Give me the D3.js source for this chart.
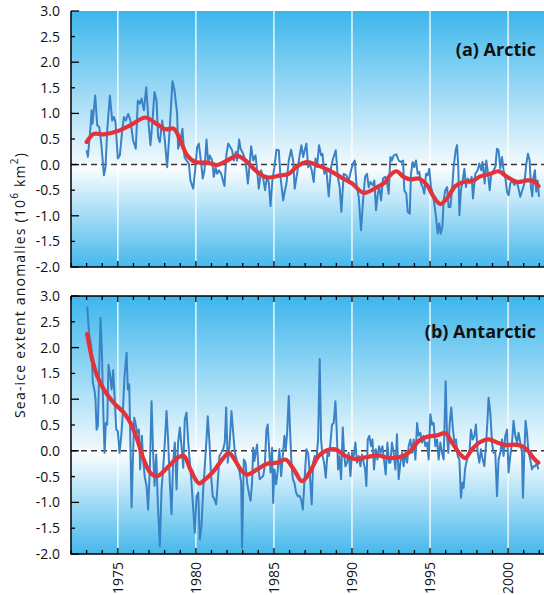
<!DOCTYPE html>
<html>
<head>
<meta charset="utf-8">
<script src="https://cdn.jsdelivr.net/npm/d3@7"></script>
<style>
html,body{margin:0;padding:0;background:#fff;}
svg{display:block;}
text{font-family:"Open Sans","Noto Sans",sans-serif;}
</style>
</head>
<body>
<svg id="chart" width="544" height="595"></svg>
<script>
// ---------- DATA ----------
const yTicks = [-2.0,-1.5,-1.0,-0.5,0.0,0.5,1.0,1.5,2.0,2.5,3.0];
const yearTicks = [1975,1980,1985,1990,1995,2000];
const panelLabels = ["(a) Arctic","(b) Antarctic"];
const yTitle = "Sea-ice extent anomalies (10";

// Arctic monthly anomalies [year, value]
const arcticMonthly = [
[1973.00,0.28],[1973.08,0.15],[1973.25,0.73],[1973.32,1.06],[1973.38,0.80],[1973.55,1.35],[1973.68,0.77],[1973.81,0.73],[1973.94,0.41],
[1974.11,-0.21],[1974.21,-0.05],[1974.32,0.67],[1974.49,1.35],[1974.64,0.86],[1974.75,0.93],[1974.85,0.83],[1975.00,0.12],[1975.13,0.18],
[1975.28,0.67],[1975.39,0.93],[1975.51,0.86],[1975.66,0.99],[1975.81,0.86],[1975.98,0.47],[1976.15,0.31],[1976.28,1.25],[1976.41,1.19],
[1976.52,1.29],[1976.67,1.06],[1976.82,1.51],[1976.99,0.73],[1977.09,0.38],[1977.22,0.86],[1977.35,1.42],[1977.48,1.25],[1977.58,0.54],
[1977.69,0.44],[1977.84,0.86],[1977.99,0.54],[1978.16,-0.05],[1978.33,0.73],[1978.50,1.63],[1978.63,1.45],[1978.80,0.99],[1978.86,0.31],
[1979.01,0.47],[1979.14,0.70],[1979.27,0.15],[1979.40,0.08],[1979.55,0.02],[1979.65,-0.31],[1979.83,-0.47],[1979.97,-0.05],[1980.08,0.34],
[1980.19,0.41],[1980.29,0.15],[1980.44,-0.27],[1980.55,-0.11],[1980.68,0.49],[1980.79,0.02],[1980.89,0.18],[1981.04,0.08],[1981.15,-0.24],
[1981.26,-0.05],[1981.36,-0.18],[1981.47,-0.11],[1981.62,-0.18],[1981.83,-0.42],[1981.96,0.21],[1982.07,0.41],[1982.21,0.34],[1982.32,0.28],
[1982.43,0.08],[1982.56,0.25],[1982.64,0.08],[1982.77,0.49],[1982.86,0.31],[1983.03,0.21],[1983.18,0.08],[1983.33,-0.37],[1983.43,-0.05],
[1983.54,0.36],[1983.67,0.08],[1983.82,0.18],[1983.92,-0.11],[1984.03,-0.47],[1984.18,-0.11],[1984.31,-0.27],[1984.43,-0.50],[1984.56,-0.24],
[1984.67,-0.34],[1984.78,-0.81],[1984.90,-0.31],[1985.03,-0.05],[1985.16,0.29],[1985.31,0.28],[1985.42,-0.24],[1985.59,-0.70],[1985.69,-0.53],
[1985.80,-0.37],[1985.95,0.08],[1986.10,0.29],[1986.23,0.08],[1986.33,-0.47],[1986.48,-0.18],[1986.63,0.15],[1986.76,0.38],[1986.87,0.15],
[1986.97,0.28],[1987.08,0.41],[1987.19,-0.05],[1987.29,0.02],[1987.42,-0.11],[1987.55,-0.34],[1987.66,0.12],[1987.76,-0.05],[1987.89,0.38],
[1988.02,0.18],[1988.11,0.21],[1988.23,-0.18],[1988.36,-0.11],[1988.51,-0.62],[1988.66,-0.05],[1988.79,0.12],[1988.96,0.28],[1989.09,-0.24],
[1989.21,-0.44],[1989.32,-0.92],[1989.47,-0.18],[1989.64,-0.21],[1989.79,-0.31],[1989.94,-0.11],[1990.07,0.02],[1990.18,0.08],[1990.28,-0.37],
[1990.43,-0.63],[1990.58,-1.28],[1990.71,-0.70],[1990.84,-0.24],[1990.96,-0.18],[1991.07,-0.44],[1991.18,-0.34],[1991.33,-0.40],[1991.43,-0.31],
[1991.54,-0.89],[1991.65,-0.57],[1991.75,-0.44],[1991.86,-0.70],[1991.99,-0.27],[1992.12,-0.24],[1992.24,-0.34],[1992.35,-0.57],[1992.46,0.15],
[1992.56,0.08],[1992.67,0.18],[1992.84,0.20],[1992.99,0.08],[1993.14,0.05],[1993.27,0.08],[1993.35,-0.50],[1993.48,-0.57],[1993.57,-0.92],
[1993.70,-0.96],[1993.78,-0.18],[1993.89,0.05],[1993.99,-0.05],[1994.10,0.08],[1994.21,-0.18],[1994.31,-0.14],[1994.42,-0.37],[1994.53,-0.44],
[1994.63,-0.57],[1994.74,-0.18],[1994.85,-0.21],[1994.95,-0.08],[1995.06,-0.44],[1995.17,-0.57],[1995.27,-0.76],[1995.38,-1.02],[1995.49,-1.35],
[1995.59,-1.15],[1995.68,-1.35],[1995.79,-1.22],[1995.87,-0.70],[1995.98,-0.50],[1996.09,-0.44],[1996.19,-0.83],[1996.30,-0.83],[1996.41,-0.50],
[1996.51,-0.05],[1996.64,0.28],[1996.73,0.38],[1996.81,-0.05],[1996.88,-0.99],[1996.98,-0.50],[1997.09,-0.31],[1997.20,-0.08],[1997.30,-0.44],
[1997.41,-0.27],[1997.54,-0.36],[1997.67,-0.24],[1997.75,-0.66],[1997.90,-0.18],[1998.05,-0.11],[1998.16,0.02],[1998.28,-0.11],[1998.37,0.05],
[1998.50,-0.37],[1998.60,0.08],[1998.69,-0.11],[1998.82,-0.50],[1998.92,-0.18],[1999.07,-0.11],[1999.18,-0.05],[1999.29,0.31],[1999.39,0.28],
[1999.50,-0.08],[1999.61,0.15],[1999.71,-0.11],[1999.82,-0.24],[1999.93,-0.53],[2000.03,-0.60],[2000.14,-0.37],[2000.27,-0.31],[2000.40,-0.40],
[2000.52,-0.31],[2000.65,-0.44],[2000.78,-0.63],[2000.91,-0.50],[2001.04,-0.37],[2001.17,0.02],[2001.27,0.21],[2001.38,0.08],[2001.46,-0.44],
[2001.55,-0.62],[2001.63,-0.24],[2001.72,-0.11],[2001.80,-0.53],[2001.89,-0.31],[2001.98,-0.63]
];

// Arctic smoothed curve [year, value]
const arcticSmooth = [
[1973.00,0.44],[1973.47,0.60],[1974.10,0.59],[1974.96,0.65],[1975.81,0.77],[1976.77,0.92],[1977.41,0.81],[1978.05,0.69],[1978.58,0.70],
[1979.01,0.47],[1979.44,0.18],[1979.97,0.05],[1980.72,0.04],[1981.36,-0.01],[1982.00,0.08],[1982.64,0.17],[1983.18,0.08],[1983.92,-0.14],
[1984.56,-0.25],[1985.42,-0.21],[1985.95,-0.18],[1986.49,-0.03],[1987.08,0.05],[1987.77,-0.01],[1988.51,-0.11],[1989.26,-0.24],[1990.01,-0.37],
[1990.75,-0.55],[1991.60,-0.44],[1992.14,-0.34],[1992.40,-0.22],[1992.84,-0.13],[1993.31,-0.24],[1993.74,-0.29],[1994.27,-0.27],[1994.81,-0.40],
[1995.23,-0.63],[1995.66,-0.77],[1996.09,-0.66],[1996.62,-0.42],[1997.15,-0.34],[1997.69,-0.32],[1998.22,-0.23],[1998.86,-0.18],[1999.39,-0.13],
[1999.93,-0.24],[2000.57,-0.34],[2001.21,-0.31],[2001.63,-0.32],[2001.95,-0.42]
];

// Antarctic monthly anomalies [year, value]
const antarcticMonthly = [
[1973.04,2.80],[1973.15,2.29],[1973.30,2.03],[1973.40,1.32],[1973.51,1.16],[1973.57,1.00],[1973.64,0.41],[1973.72,0.48],[1973.81,1.64],
[1973.89,2.58],[1973.98,1.90],[1974.06,0.87],[1974.15,-0.04],[1974.23,0.54],[1974.32,0.51],[1974.40,1.67],[1974.49,1.51],[1974.60,1.19],
[1974.70,1.56],[1974.79,1.06],[1974.90,0.41],[1975.00,0.38],[1975.11,-0.04],[1975.22,0.29],[1975.32,0.74],[1975.43,1.45],[1975.56,1.90],
[1975.64,1.19],[1975.73,1.29],[1975.81,0.09],[1975.88,-1.10],[1975.96,-0.23],[1976.05,0.64],[1976.13,0.54],[1976.24,0.35],[1976.35,0.41],
[1976.43,-0.36],[1976.54,0.29],[1976.62,-0.17],[1976.73,-0.52],[1976.84,-0.68],[1976.94,-1.14],[1977.05,-0.36],[1977.16,0.96],[1977.26,-0.04],
[1977.35,-0.68],[1977.46,-0.07],[1977.56,-1.01],[1977.69,-1.85],[1977.80,-0.75],[1977.90,-0.36],[1978.01,0.16],[1978.12,0.77],[1978.22,0.22],
[1978.33,-0.62],[1978.44,-1.23],[1978.54,-0.23],[1978.65,0.16],[1978.76,-0.75],[1978.86,0.16],[1978.97,0.45],[1979.08,0.09],[1979.19,-0.33],
[1979.29,0.61],[1979.40,0.74],[1979.50,0.22],[1979.61,-0.23],[1979.72,-0.62],[1979.83,-1.14],[1979.93,-1.59],[1980.04,-0.88],[1980.15,-0.81],
[1980.25,-1.72],[1980.36,-1.46],[1980.47,-0.75],[1980.57,-0.30],[1980.68,0.22],[1980.76,0.67],[1980.87,0.16],[1980.98,-0.52],[1981.08,-0.88],
[1981.19,-0.94],[1981.30,-1.04],[1981.40,-0.62],[1981.51,-0.10],[1981.62,-0.04],[1981.75,0.03],[1981.85,0.16],[1981.94,0.84],[1982.04,-0.23],
[1982.15,0.09],[1982.28,0.77],[1982.39,0.35],[1982.49,-0.01],[1982.60,-0.17],[1982.71,-0.30],[1982.81,-0.43],[1982.90,-0.62],[1982.96,-1.88],
[1983.07,-0.17],[1983.18,-0.23],[1983.28,-0.62],[1983.39,-0.81],[1983.50,-0.97],[1983.60,-0.62],[1983.67,0.06],[1983.75,-0.20],[1983.84,-0.01],
[1983.92,0.12],[1984.01,-0.36],[1984.09,-0.55],[1984.20,-0.52],[1984.31,-0.49],[1984.41,-0.30],[1984.52,0.41],[1984.60,0.51],[1984.69,0.03],
[1984.78,-0.42],[1984.88,0.06],[1984.95,-1.01],[1985.03,-0.36],[1985.14,-0.65],[1985.25,-0.36],[1985.35,0.03],[1985.46,-0.49],[1985.57,-0.10],
[1985.67,0.29],[1985.76,0.03],[1985.84,0.32],[1985.95,1.06],[1986.03,0.41],[1986.12,-0.23],[1986.21,-0.55],[1986.31,-0.62],[1986.42,-0.81],
[1986.53,-0.88],[1986.63,-0.87],[1986.74,-0.94],[1986.85,-1.14],[1986.95,-0.62],[1987.08,0.03],[1987.19,-0.04],[1987.29,-0.42],[1987.42,-1.04],
[1987.51,-0.23],[1987.61,-0.10],[1987.72,-0.17],[1987.83,0.22],[1987.93,1.78],[1988.02,0.22],[1988.10,-0.07],[1988.21,-0.23],[1988.32,-0.52],
[1988.43,-0.04],[1988.53,-0.10],[1988.62,0.16],[1988.72,0.51],[1988.83,0.54],[1988.94,0.96],[1989.02,0.41],[1989.11,-0.36],[1989.19,-0.10],
[1989.30,-0.55],[1989.41,0.45],[1989.49,-0.04],[1989.58,-0.30],[1989.68,-0.23],[1989.79,-0.04],[1989.90,-0.49],[1990.00,-0.04],[1990.11,-0.10],
[1990.22,0.16],[1990.32,-0.23],[1990.43,-0.10],[1990.54,-0.30],[1990.64,-0.07],[1990.75,-0.23],[1990.84,-0.36],[1990.92,-0.68],[1991.01,0.22],
[1991.11,0.29],[1991.22,0.09],[1991.31,0.22],[1991.41,-0.36],[1991.52,0.03],[1991.63,-0.17],[1991.73,0.09],[1991.84,-0.04],[1991.95,0.09],
[1992.05,-0.17],[1992.16,-0.46],[1992.27,0.16],[1992.37,-0.23],[1992.46,-0.23],[1992.56,0.16],[1992.67,-0.04],[1992.78,-0.36],[1992.88,0.32],
[1992.99,-0.55],[1993.10,-0.23],[1993.21,-0.04],[1993.31,-0.30],[1993.42,-0.04],[1993.53,-0.23],[1993.63,0.09],[1993.74,0.22],[1993.85,-0.04],
[1993.95,0.22],[1994.06,-0.17],[1994.17,0.54],[1994.27,0.29],[1994.38,0.35],[1994.49,0.16],[1994.59,0.29],[1994.70,0.09],[1994.81,0.16],
[1994.91,-0.17],[1995.02,0.71],[1995.13,0.51],[1995.23,0.54],[1995.34,0.09],[1995.45,0.22],[1995.55,-0.17],[1995.66,0.16],[1995.77,-0.04],
[1995.87,-0.17],[1996.00,1.35],[1996.09,0.29],[1996.17,-0.04],[1996.26,0.54],[1996.36,0.84],[1996.47,0.41],[1996.56,0.16],[1996.66,0.22],
[1996.77,-0.10],[1996.88,-0.17],[1996.98,-0.91],[1997.07,-0.62],[1997.15,-0.72],[1997.24,-0.36],[1997.32,-0.23],[1997.43,-0.10],[1997.54,0.03],
[1997.62,0.41],[1997.73,0.22],[1997.84,0.29],[1997.94,0.51],[1998.05,-0.04],[1998.16,-0.23],[1998.26,0.03],[1998.37,-0.17],[1998.48,-0.30],
[1998.58,0.09],[1998.67,0.54],[1998.75,1.03],[1998.86,0.74],[1998.97,0.16],[1999.07,-0.04],[1999.18,-0.04],[1999.29,-0.88],[1999.39,-0.17],
[1999.50,-0.04],[1999.61,0.22],[1999.71,-0.10],[1999.82,0.29],[1999.93,0.41],[2000.03,-0.42],[2000.14,-0.10],[2000.25,0.16],[2000.35,0.58],
[2000.46,0.29],[2000.57,0.16],[2000.67,0.35],[2000.78,0.16],[2000.89,-0.04],[2000.95,-0.91],[2001.04,-0.04],[2001.12,0.58],[2001.21,0.35],
[2001.31,-0.04],[2001.42,-0.17],[2001.53,-0.36],[2001.63,-0.30],[2001.74,-0.30],[2001.85,-0.23],[2001.93,-0.36]
];

// Antarctic smoothed curve [year, value]
const antarcticSmooth = [
[1973.04,2.26],[1973.36,1.77],[1973.68,1.45],[1974.10,1.19],[1974.74,0.93],[1975.38,0.74],[1975.81,0.54],[1976.24,0.22],[1976.66,-0.17],
[1977.09,-0.43],[1977.52,-0.49],[1978.16,-0.33],[1978.80,-0.14],[1979.23,-0.10],[1979.65,-0.36],[1980.19,-0.63],[1980.61,-0.55],[1981.15,-0.39],
[1981.68,-0.17],[1982.11,-0.04],[1982.54,-0.20],[1982.86,-0.36],[1983.28,-0.46],[1983.92,-0.36],[1984.56,-0.25],[1985.20,-0.23],[1985.74,-0.17],
[1986.27,-0.36],[1986.80,-0.59],[1987.34,-0.39],[1987.87,-0.10],[1988.40,0.01],[1988.94,0.03],[1989.58,-0.10],[1990.22,-0.16],[1990.97,-0.12],
[1991.60,-0.09],[1992.46,-0.14],[1993.31,-0.10],[1993.74,-0.01],[1994.27,0.19],[1994.81,0.27],[1995.45,0.30],[1995.98,0.34],[1996.41,0.16],
[1996.94,-0.07],[1997.26,-0.14],[1997.69,0.03],[1998.22,0.17],[1998.75,0.22],[1999.29,0.16],[1999.82,0.11],[2000.35,0.12],[2000.89,0.09],
[2001.31,-0.01],[2001.63,-0.14],[2001.93,-0.23]
];

// ---------- DRAWING ----------
const svg = d3.select("#chart");
const L = 71, R = 544;
const x = d3.scaleLinear().domain([1972, 2002.3]).range([L, R]);
const panels = [
  {top: 11, bottom: 267, monthly: arcticMonthly, smooth: arcticSmooth, label: panelLabels[0], labelY: 56, topAxis: false, bottomLabels: false},
  {top: 296, bottom: 554, monthly: antarcticMonthly, smooth: antarcticSmooth, label: panelLabels[1], labelY: 338, topAxis: true, bottomLabels: true}
];
const defs = svg.append("defs");
const years = d3.range(1972, 2003);

panels.forEach((p, i) => {
  const y = d3.scaleLinear().domain([-2, 3]).range([p.bottom, p.top]);
  const g = svg.append("g");
  const zf = (y(0) - p.top) / (p.bottom - p.top);
  const grad = defs.append("linearGradient").attr("id", "bg" + i)
    .attr("gradientUnits", "userSpaceOnUse").attr("x1", 0).attr("x2", 0)
    .attr("y1", p.top).attr("y2", p.bottom);
  grad.append("stop").attr("offset", 0).attr("stop-color", "#3db6ec");
  grad.append("stop").attr("offset", zf - 0.01).attr("stop-color", "#eef8fd");
  grad.append("stop").attr("offset", zf).attr("stop-color", "#ffffff");
  grad.append("stop").attr("offset", 1).attr("stop-color", "#45b8ec");
  g.append("rect").attr("x", L).attr("y", p.top).attr("width", R - L).attr("height", p.bottom - p.top)
    .attr("fill", `url(#bg${i})`);

  // white vertical gridlines
  g.selectAll("line.grid").data(yearTicks).join("line").attr("class", "grid")
    .attr("x1", d => x(d)).attr("x2", d => x(d)).attr("y1", p.top).attr("y2", p.bottom)
    .attr("stroke", "#ffffff").attr("stroke-opacity", 0.85).attr("stroke-width", 1.5);

  // zero dashed line
  g.append("line").attr("x1", L).attr("x2", R).attr("y1", y(0)).attr("y2", y(0))
    .attr("stroke", "#333").attr("stroke-width", 1.5).attr("stroke-dasharray", "6,4");

  // monthly line
  g.append("path").datum(p.monthly)
    .attr("d", d3.line().x(d => x(d[0])).y(d => y(d[1])))
    .attr("fill", "none").attr("stroke", "#3a82c6").attr("stroke-width", 2)
    .attr("stroke-linejoin", "round");

  // smooth line
  g.append("path").datum(p.smooth)
    .attr("d", d3.line().curve(d3.curveCatmullRom.alpha(0.5)).x(d => x(d[0])).y(d => y(d[1])))
    .attr("fill", "none").attr("stroke", "#e2333b").attr("stroke-width", 4.2)
    .attr("stroke-linecap", "round").attr("stroke-linejoin", "round");

  // axes lines
  g.append("line").attr("x1", L).attr("x2", L).attr("y1", p.top).attr("y2", p.bottom + 0.75)
    .attr("stroke", "#000").attr("stroke-width", 1.5);
  g.append("line").attr("x1", L).attr("x2", R).attr("y1", p.bottom).attr("y2", p.bottom)
    .attr("stroke", "#000").attr("stroke-width", 1.5);
  if (p.topAxis) {
    g.append("line").attr("x1", L).attr("x2", R).attr("y1", p.top).attr("y2", p.top)
      .attr("stroke", "#000").attr("stroke-width", 1.5);
    g.selectAll("line.tt").data(years).join("line").attr("class", "tt")
      .attr("x1", d => x(d)).attr("x2", d => x(d)).attr("y1", p.top)
      .attr("y2", d => p.top + (d % 5 === 0 ? 6 : 4)).attr("stroke", "#000").attr("stroke-width", 1.3);
  }
  // bottom ticks (inward)
  g.selectAll("line.bt").data(years).join("line").attr("class", "bt")
    .attr("x1", d => x(d)).attr("x2", d => x(d)).attr("y1", p.bottom)
    .attr("y2", d => p.bottom - (d % 5 === 0 ? 6 : 4)).attr("stroke", "#000").attr("stroke-width", 1.3);

  // y ticks (inward)
  g.selectAll("line.yt").data(yTicks).join("line").attr("class", "yt")
    .attr("x1", L).attr("x2", d => L + (Number.isInteger(d) ? 8 : 4))
    .attr("y1", d => y(d)).attr("y2", d => y(d)).attr("stroke", "#000").attr("stroke-width", 1.3);
  g.selectAll("text.yl").data(yTicks).join("text").attr("class", "yl")
    .attr("x", 60).attr("y", d => y(d)).attr("dy", "0.36em").attr("text-anchor", "end")
    .attr("font-size", 14).attr("fill", "#111")
    .text(d => (d < 0 ? "-" : "") + Math.abs(d).toFixed(1));

  // panel label
  g.append("text").attr("x", 536).attr("y", p.labelY).attr("text-anchor", "end")
    .attr("font-size", 18).attr("font-weight", "bold").attr("fill", "#111").text(p.label);

  if (p.bottomLabels) {
    g.selectAll("text.xl").data(yearTicks).join("text").attr("class", "xl")
      .attr("transform", d => `translate(${x(d)},${p.bottom + 8}) rotate(-90)`)
      .attr("dy", "0.36em").attr("text-anchor", "end")
      .attr("font-size", 14).attr("fill", "#111").text(d => d);
  }
});

// y axis title
const t = svg.append("text").attr("transform", "translate(25,285) rotate(-90)")
  .attr("text-anchor", "middle").attr("font-size", 14).attr("letter-spacing", 1.2).attr("fill", "#111");
t.append("tspan").text(yTitle);
t.append("tspan").attr("baseline-shift", "super").attr("font-size", 10).text("6");
t.append("tspan").text(" km");
t.append("tspan").attr("baseline-shift", "super").attr("font-size", 10).text("2");
t.append("tspan").text(")");
</script>
</body>
</html>
